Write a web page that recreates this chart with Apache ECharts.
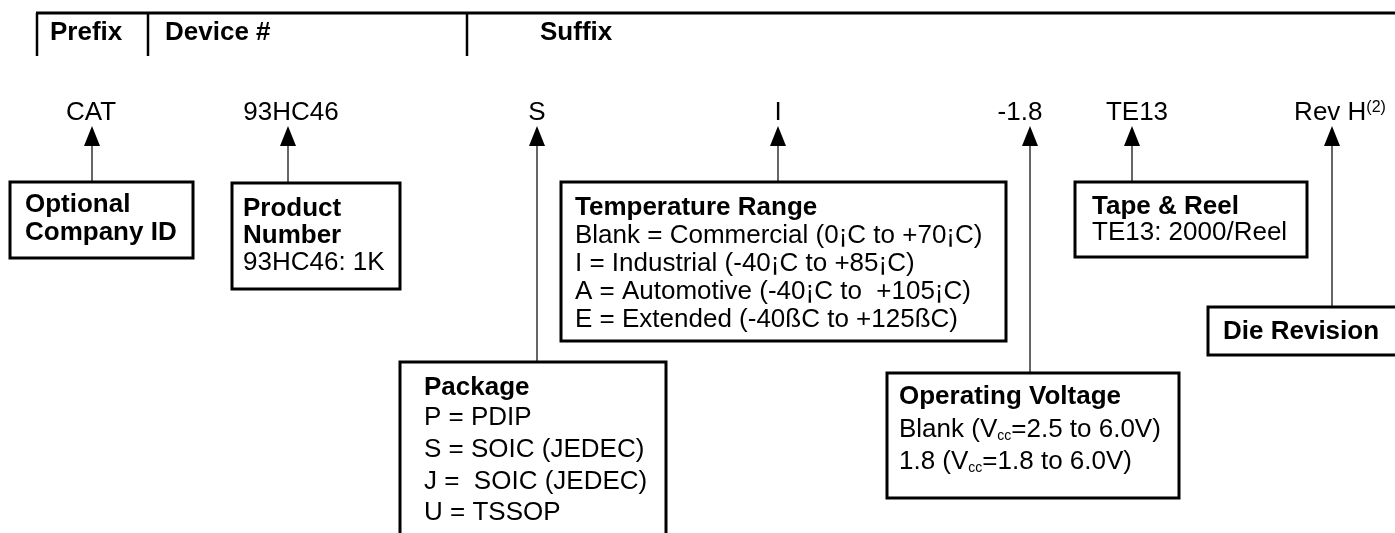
<!DOCTYPE html>
<html>
<head>
<meta charset="utf-8">
<script src="https://cdn.jsdelivr.net/npm/echarts@6/dist/echarts.min.js"></script>
<style>
  html, body { margin: 0; padding: 0; background: #fff; }
  #main { width: 1395px; height: 533px; }
</style>
</head>
<body>
<div id="main"></div>
<script>
// 表头
var headerLabels = ['Prefix', 'Device #', 'Suffix'];
// 型号各段
var codeLabels = ['CAT', '93HC46', 'S', 'I', '-1.8', 'TE13', 'Rev H'];
var codeNotes = ['', '', '', '', '', '', '(2)'];
// 说明框：粗体标题 + 正文
var boxTitles = [
  ['Optional', 'Company ID'],
  ['Product', 'Number'],
  ['Package'],
  ['Temperature Range'],
  ['Operating Voltage'],
  ['Tape & Reel'],
  ['Die Revision']
];
var boxLines = [
  [],
  ['93HC46: 1K'],
  ['P = PDIP', 'S = SOIC (JEDEC)', 'J =  SOIC (JEDEC)', 'U = TSSOP'],
  ['Blank = Commercial (0¡C to +70¡C)', 'I = Industrial (-40¡C to +85¡C)',
   'A = Automotive (-40¡C to  +105¡C)', 'E = Extended (-40ßC to +125ßC)'],
  ['Blank (V{sub|cc}=2.5 to 6.0V)', '1.8 (V{sub|cc}=1.8 to 6.0V)'],
  ['TE13: 2000/Reel'],
  []
];

// 布局（图内坐标，和画布一样大）
var W = 1395, H = 533;
var FONT = '"Liberation Sans", Arial, Helvetica, sans-serif';
var headerX = [50, 165, 540];
var dividerX = [37, 148, 467];
var codeX = [91, 291, 537, 778, 1020, 1137, 1340];
var arrowX = [92, 288, 537, 778, 1030, 1132, 1332];
var codeY = 113, arrowTip = 126, arrowBase = 146;
// [左, 上, 右, 下]
var boxRect = [
  [10, 182, 193, 258],
  [232, 183, 400, 289],
  [400, 362, 666, 560],
  [561, 182, 1006, 341],
  [887, 373, 1179, 498],
  [1075, 182, 1307, 257],
  [1208, 307, 1410, 355]
];
// 文字左边 + 每行的 y
var boxTextX = [25, 243, 424, 575, 899, 1092, 1223];
var boxRowY = [
  [205, 233],
  [209, 236, 263],
  [388, 418, 450, 482, 513],
  [208, 236, 264, 292, 320],
  [397, 430, 462],
  [207, 233],
  [332]
];

function textStyle(x, y, text, bold, align) {
  return {
    x: x, y: y, text: text,
    fontSize: 26, fontFamily: FONT, fontWeight: bold ? 'bold' : 'normal',
    fill: '#000', textAlign: align || 'left', textVerticalAlign: 'middle',
    rich: {
      sub: { fontSize: 14, fontFamily: FONT, fill: '#000', verticalAlign: 'bottom' },
      sup: { fontSize: 16, fontFamily: FONT, fill: '#000', verticalAlign: 'top' }
    }
  };
}

// 表头：标签 + 分隔线
function renderHeader(params, api) {
  var i = params.dataIndex;
  var children = [];
  if (i === 0) {
    var a = api.coord([36, 13]), b = api.coord([W, 13]);
    children.push({ type: 'line', shape: { x1: a[0], y1: a[1], x2: b[0], y2: b[1] },
      style: { stroke: '#000', lineWidth: 3 } });
  }
  var t = api.coord([dividerX[i], 13]), d = api.coord([dividerX[i], 56]);
  children.push({ type: 'line', shape: { x1: t[0], y1: t[1], x2: d[0], y2: d[1] },
    style: { stroke: '#000', lineWidth: 2.5 } });
  var p = api.coord([headerX[i], 33]);
  children.push({ type: 'text', style: textStyle(p[0], p[1], headerLabels[i], true) });
  return { type: 'group', children: children };
}

// 型号段 + 箭头
function renderCode(params, api) {
  var i = params.dataIndex;
  var tp = api.coord([codeX[i], codeY]);
  var tip = api.coord([arrowX[i], arrowTip]);
  var base = api.coord([arrowX[i], arrowBase]);
  var end = api.coord([arrowX[i], boxRect[i][1]]);
  var half = api.size([8, 0])[0];
  var txt = codeLabels[i] + (codeNotes[i] ? '{sup|' + codeNotes[i] + '}' : '');
  return {
    type: 'group',
    children: [
      { type: 'line', shape: { x1: base[0], y1: base[1], x2: end[0], y2: end[1] },
        style: { stroke: '#333', lineWidth: 1.5 } },
      { type: 'polygon', shape: { points: [tip, [base[0] - half, base[1]], [base[0] + half, base[1]]] },
        style: { fill: '#000' } },
      { type: 'text', style: textStyle(tp[0], tp[1], txt, false, 'center') }
    ]
  };
}

// 说明框
function renderBox(params, api) {
  var i = params.dataIndex;
  var r = boxRect[i];
  var p0 = api.coord([r[0], r[1]]), p1 = api.coord([r[2], r[3]]);
  var children = [{
    type: 'rect',
    shape: { x: p0[0], y: p0[1], width: p1[0] - p0[0], height: p1[1] - p0[1] },
    style: { fill: '#fff', stroke: '#000', lineWidth: 3 }
  }];
  var rows = boxTitles[i].map(function (s) { return [s, true]; })
    .concat(boxLines[i].map(function (s) { return [s, false]; }));
  rows.forEach(function (row, k) {
    var p = api.coord([boxTextX[i], boxRowY[i][k]]);
    children.push({ type: 'text', style: textStyle(p[0], p[1], row[0], row[1]) });
  });
  return { type: 'group', children: children };
}

var myChart = echarts.init(document.getElementById('main'));
var option = {
  animation: false,
  grid: { left: 0, right: 0, top: 0, bottom: 0 },
  xAxis: { type: 'value', min: 0, max: W, show: false },
  yAxis: { type: 'value', min: 0, max: H, inverse: true, show: false },
  series: [
    { type: 'custom', clip: false, renderItem: renderHeader,
      data: headerLabels.map(function (s, i) { return [i]; }) },
    { type: 'custom', clip: false, renderItem: renderCode,
      data: codeLabels.map(function (s, i) { return [i]; }) },
    { type: 'custom', clip: false, renderItem: renderBox,
      data: boxTitles.map(function (s, i) { return [i]; }) }
  ]
};
myChart.setOption(option);
window.addEventListener('resize', function () { myChart.resize(); });
</script>
</body>
</html>
